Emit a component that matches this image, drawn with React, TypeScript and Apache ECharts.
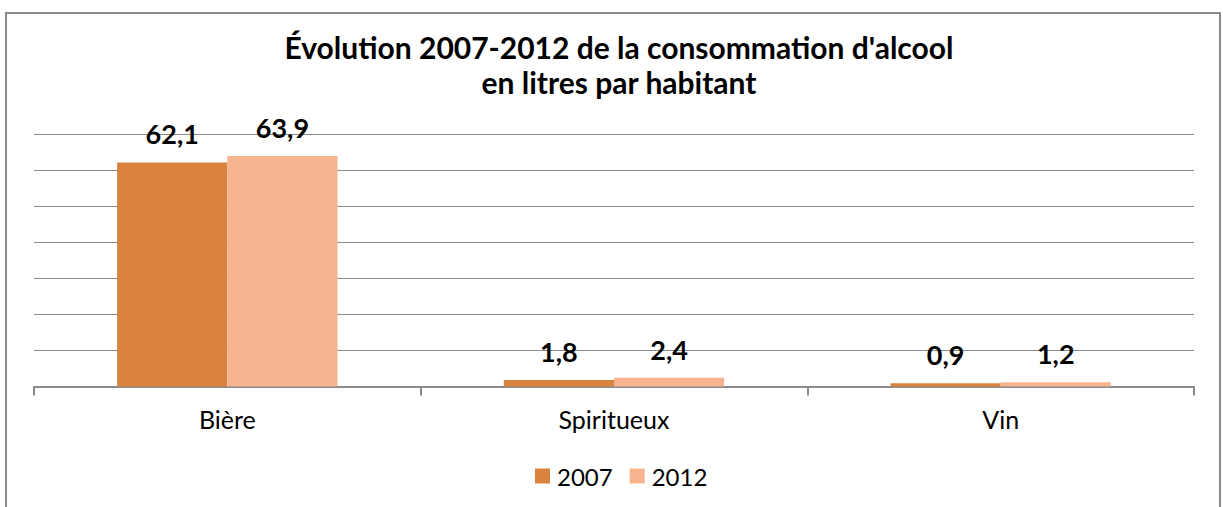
import React, { useEffect, useRef } from "react";
import * as echarts from "echarts";

const categories = ["Bière", "Spiritueux", "Vin"];
const values2007 = [62.1, 1.8, 0.9];
const values2012 = [63.9, 2.4, 1.2];
const seriesNames = ["2007", "2012"];
const titleText = "Évolution 2007-2012 de la consommation d'alcool\nen litres par habitant";

const FONT = "Lato";

export default function App() {
  const ref = useRef<HTMLDivElement>(null);
  useEffect(() => {
    if (!ref.current) return;
    const chart = echarts.init(ref.current, undefined, { renderer: "svg" });
    const fmt = (p: any) => String(p.value).replace(".", ",");
    const labelStyle = {
      show: true,
      position: "top",
      distance: 15,
      formatter: fmt,
      fontFamily: FONT,
      fontWeight: "bold",
      fontSize: 27,
      color: "#000",
    };
    chart.setOption({
      animation: false,
      backgroundColor: "#fff",
      title: {
        text: titleText,
        left: 614,
        textAlign: "center",
        top: 24,
        textStyle: {
          fontFamily: FONT,
          fontWeight: "bold",
          fontSize: 30,
          lineHeight: 35,
          color: "#000",
        },
      },
      graphic: [
        {
          type: "rect",
          shape: { x: 6, y: 13, width: 1214, height: 510 },
          style: { fill: "none", stroke: "#8a8a8a", lineWidth: 2 },
          silent: true,
        },
      ],
      legend: {
        data: seriesNames,
        bottom: 14,
        left: 530,
        icon: "rect",
        itemWidth: 15,
        itemHeight: 15,
        itemGap: 17,
        textStyle: { fontFamily: FONT, fontSize: 24, color: "#000", padding: [0, 0, 0, 2] },
      },
      grid: { left: 34, right: 29, top: 134, bottom: 120.5, containLabel: false },
      xAxis: {
        type: "category",
        data: categories,
        axisLine: { lineStyle: { color: "#8a8a8a", width: 2 } },
        axisTick: { show: true, length: 9, lineStyle: { color: "#8a8a8a", width: 2 } },
        axisLabel: { fontFamily: FONT, fontSize: 25, color: "#000", margin: 20 },
      },
      yAxis: {
        type: "value",
        min: 0,
        max: 70,
        interval: 10,
        axisLine: { show: false },
        axisTick: { show: false },
        axisLabel: { show: false },
        splitLine: { lineStyle: { color: "#8a8a8a", width: 1 } },
      },
      series: [
        {
          name: seriesNames[0],
          type: "bar",
          data: values2007,
          barGap: "0%",
          barCategoryGap: "43%",
          itemStyle: { color: "#DA833E" },
          label: labelStyle,
        },
        {
          name: seriesNames[1],
          type: "bar",
          data: values2012,
          barGap: "0%",
          barCategoryGap: "43%",
          itemStyle: { color: "#F8B48E" },
          label: labelStyle,
        },
      ],
    });
    return () => chart.dispose();
  }, []);
  return (
    <div
      ref={ref}
      style={{ position: "fixed", left: 0, top: 0, width: 1223, height: 507 }}
    />
  );
}
